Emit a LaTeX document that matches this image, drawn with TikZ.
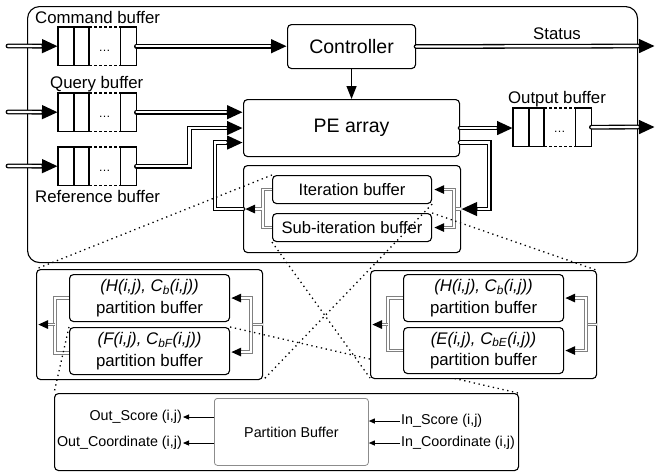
\documentclass[tikz,border=0pt]{standalone}
\usepackage{fontspec}
\setmainfont{Liberation Sans}
\usetikzlibrary{arrows.meta,calc}
\tikzset{
  box/.style={draw, line width=1.1pt, rounded corners=4pt, fill=white, inner sep=0pt, anchor=north west, align=center},
  bigtxt/.style={font=\fontsize{19.5}{22}\selectfont},
  lbl/.style={font=\fontsize{16.8}{18}\selectfont, inner sep=0pt},
  itxt/.style={font=\fontsize{16.6}{18}\selectfont},
  ptxt/.style={font=\fontsize{16.8}{21.5}\selectfont},
  btxt/.style={font=\fontsize{14.3}{16}\selectfont, inner sep=0pt},
  qline/.style={line width=1.1pt},
  qdash/.style={line width=1.1pt, dash pattern=on 3pt off 2pt},
  dbl/.style={draw=white, line width=2.2pt, line cap=round,
    preaction={draw=black, line width=4.8pt, line cap=round}},
  dbltip/.style={draw=white, line width=2.2pt, line cap=round, shorten >=17pt,
    preaction={draw=black, line width=4.8pt, line cap=round, shorten >=0pt, -{Triangle[length=16pt,width=13pt]}}},
  gdbl/.style={draw=white, line width=1.5pt,
    preaction={draw=black!50, line width=3.3pt}},
  gdbltip/.style={draw=white, line width=1.5pt, shorten >=10pt,
    preaction={draw=black!50, line width=3.3pt, shorten >=0pt, -{Triangle[length=10pt,width=8pt,color=black]}}},
  thinarrow/.style={line width=0.9pt, -{Triangle[length=6pt,width=5pt]}},
  dotline/.style={line width=1.3pt, dash pattern=on 1.3pt off 3.6pt},
}
\newcommand{\myqueue}[3]{%
  \node[minimum width=78pt, minimum height=38pt, inner sep=0pt, anchor=north west] (#1) at (#2,#3) {};
  \draw[qline] (#1.north west) rectangle ([xshift=31pt]#1.south west);
  \draw[qline] ([xshift=16pt]#1.north west) -- ([xshift=16pt]#1.south west);
  \draw[qline] ([xshift=-16pt]#1.north east) rectangle (#1.south east);
  \draw[qdash] ([xshift=31pt]#1.north west) -- ([xshift=-16pt]#1.north east);
  \draw[qdash] ([xshift=31pt]#1.south west) -- ([xshift=-16pt]#1.south east);
  \node[font=\fontsize{12}{12}\selectfont, inner sep=0pt] at ([xshift=7.5pt,yshift=-5pt]#1.center) {\dots};
}
\begin{document}
\begin{tikzpicture}[x=1pt,y=-1pt]
\useasboundingbox (0,0) rectangle (655,472);

% outer box
\node[box, rounded corners=12pt, fill=none, minimum width=610pt, minimum height=256pt] (outer) at (27,6) {};

% queues
\myqueue{cmdq}{58}{27}
\myqueue{qq}{58}{93}
\myqueue{rq}{58}{147}
\myqueue{outq}{513}{108}

\node[lbl, anchor=west] (cmdl) at (35,17) {Command buffer};
\node[lbl, anchor=west] (ql) at (50,84) {Query buffer};
\node[lbl, anchor=west] (rl) at (35,196) {Reference buffer};
\node[lbl] (ol) at (557,99) {Output buffer};
\node[lbl] (stl) at (557,34) {Status};

% main blocks
\node[box, bigtxt, minimum width=128pt, minimum height=44pt] (ctrl) at (287,24) {Controller};
\node[box, bigtxt, minimum width=216pt, minimum height=57pt] (pe) at (243,99) {PE array};
\node[box, minimum width=217pt, minimum height=87pt] (itbox) at (243,165) {};
\node[box, itxt, minimum width=159pt, minimum height=28pt] (itb) at (272,175) {Iteration buffer};
\node[box, itxt, minimum width=159pt, minimum height=28pt] (sib) at (272,213) {Sub-iteration buffer};

% input / output coordinates
\coordinate (in1) at (8,46);
\coordinate (in2) at (8,112);
\coordinate (in3) at (8,166);
\coordinate (outst) at (655,46);
\coordinate (outo) at (655,127);

% main connectors
\draw[dbltip] (in1) -- (cmdq.west);
\draw[dbltip] (in2) -- (qq.west);
\draw[dbltip] (in3) -- (rq.west);
\draw[dbltip] (cmdq.east) -- (cmdq.east -| ctrl.west);
\draw[dbltip] (ctrl.east) -- (outst);
\draw[line width=1.3pt, -{Triangle[length=13pt,width=10pt]}] (ctrl.south) -- (ctrl.south |- pe.north);
\draw[dbltip] (qq.east) -- (qq.east -| pe.west);
\draw[dbltip] (rq.east) -- ++(53,0) |- (pe.west);
\draw[dbltip] (pe.east) -- (pe.east -| outq.west);
\draw[dbltip] (outq.east) -- (outo);
\draw[dbltip] ($(pe.east)+(0,14.5)$) -- ++(29,0) |- (itbox.east);
\draw[dbltip] (itbox.west) -- ++(-28,0) |- ($(pe.west)+(0,14.5)$);

% iteration brackets
\coordinate (ilm) at ($(itbox.west)+(19,0)$);
\coordinate (irm) at ($(itbox.east)+(-7,0)$);
\draw[gdbl] (itb.west) -- ++(-9,0) |- (sib.west);
\draw[gdbltip] (ilm) -- ([xshift=2pt]itbox.west);
\draw[gdbl] (itbox.east) -- (irm);
\draw[gdbltip] (irm) |- ([xshift=2pt]itb.east);
\draw[gdbltip] (irm) |- ([xshift=2pt]sib.east);

% left partition box
\node[box, minimum width=226pt, minimum height=110pt] (lp) at (36,269) {};
\node[box, ptxt, minimum width=160pt, minimum height=47pt] (lph) at (69,274) {\textit{(H(i,j), C\textsubscript{b}(i,j))}\\partition buffer};
\node[box, ptxt, minimum width=160pt, minimum height=47pt] (lpf) at (69,327) {\textit{(F(i,j), C\textsubscript{bF}(i,j))}\\partition buffer};
\coordinate (llm) at ($(lp.west)+(19,0)$);
\coordinate (lrm) at ($(lp.east)+(-12,0)$);
\draw[gdbl] (lph.west) -- ++(-14,0) |- ([yshift=-2pt]lpf.west);
\draw[gdbltip] (llm) -- ([xshift=2pt]lp.west);
\draw[gdbl] (lp.east) -- (lrm);
\draw[gdbltip] (lrm) |- ([xshift=1pt]lph.east);
\draw[gdbltip] (lrm) |- ([xshift=1pt,yshift=-1pt]lpf.east);

% dotted zoom lines
\draw[dotline] (itb.north west) -- (lp.north west);
\draw[dotline] (itb.south east) -- (lp.south east);
\draw[dotline] (sib.north east) -- (596,270) coordinate (rptr);
\draw[dotline] (sib.south west) -- (370,378) coordinate (rpbl);
\draw[dotline] (lpf.north east) -- (518,393) coordinate (bbtr);
\draw[dotline] (lpf.north west) -- (54,393) coordinate (bbtl);

% right partition box
\node[box, minimum width=226pt, minimum height=108pt] (rp) at (370,270) {};
\node[box, ptxt, minimum width=160pt, minimum height=47pt] (rph) at (403,274) {\textit{(H(i,j), C\textsubscript{b}(i,j))}\\partition buffer};
\node[box, ptxt, minimum width=160pt, minimum height=46pt] (rpe) at (403,327) {\textit{(E(i,j), C\textsubscript{bE}(i,j))}\\partition buffer};
\coordinate (rlm) at ($(rp.west)+(18,0)$);
\coordinate (rrm) at ($(rp.east)+(-11,0)$);
\draw[gdbl] (rph.west) -- ++(-15,0) |- (rpe.west);
\draw[gdbltip] (rlm) -- ([xshift=2pt]rp.west);
\draw[gdbl] (rp.east) -- (rrm);
\draw[gdbltip] (rrm) |- ([xshift=1pt]rph.east);
\draw[gdbltip] (rrm) |- ([xshift=1pt]rpe.east);

% bottom box
\node[box, minimum width=464pt, minimum height=77pt] (bb) at (54,393) {};
\node[box, btxt, draw=black!45, line width=0.8pt, rounded corners=3pt, minimum width=154pt, minimum height=67pt] (pb) at (214,398) {Partition Buffer};
\node[btxt, anchor=east] (os) at (182,417) {Out\_Score (i,j)};
\node[btxt, anchor=east] (oc) at (182,443) {Out\_Coordinate (i,j)};
\node[btxt, anchor=west] (is) at (401,421) {In\_Score (i,j)};
\node[btxt, anchor=west] (ic) at (401,443) {In\_Coordinate (i,j)};
\draw[thinarrow] (pb.west |- os.east) -- ([xshift=1pt]os.east);
\draw[thinarrow] (pb.west |- oc.east) -- ([xshift=1pt]oc.east);
\draw[thinarrow] ([xshift=-1pt]is.west) -- (pb.east |- is.west);
\draw[thinarrow] ([xshift=-1pt]ic.west) -- (pb.east |- ic.west);
\end{tikzpicture}
\end{document}
